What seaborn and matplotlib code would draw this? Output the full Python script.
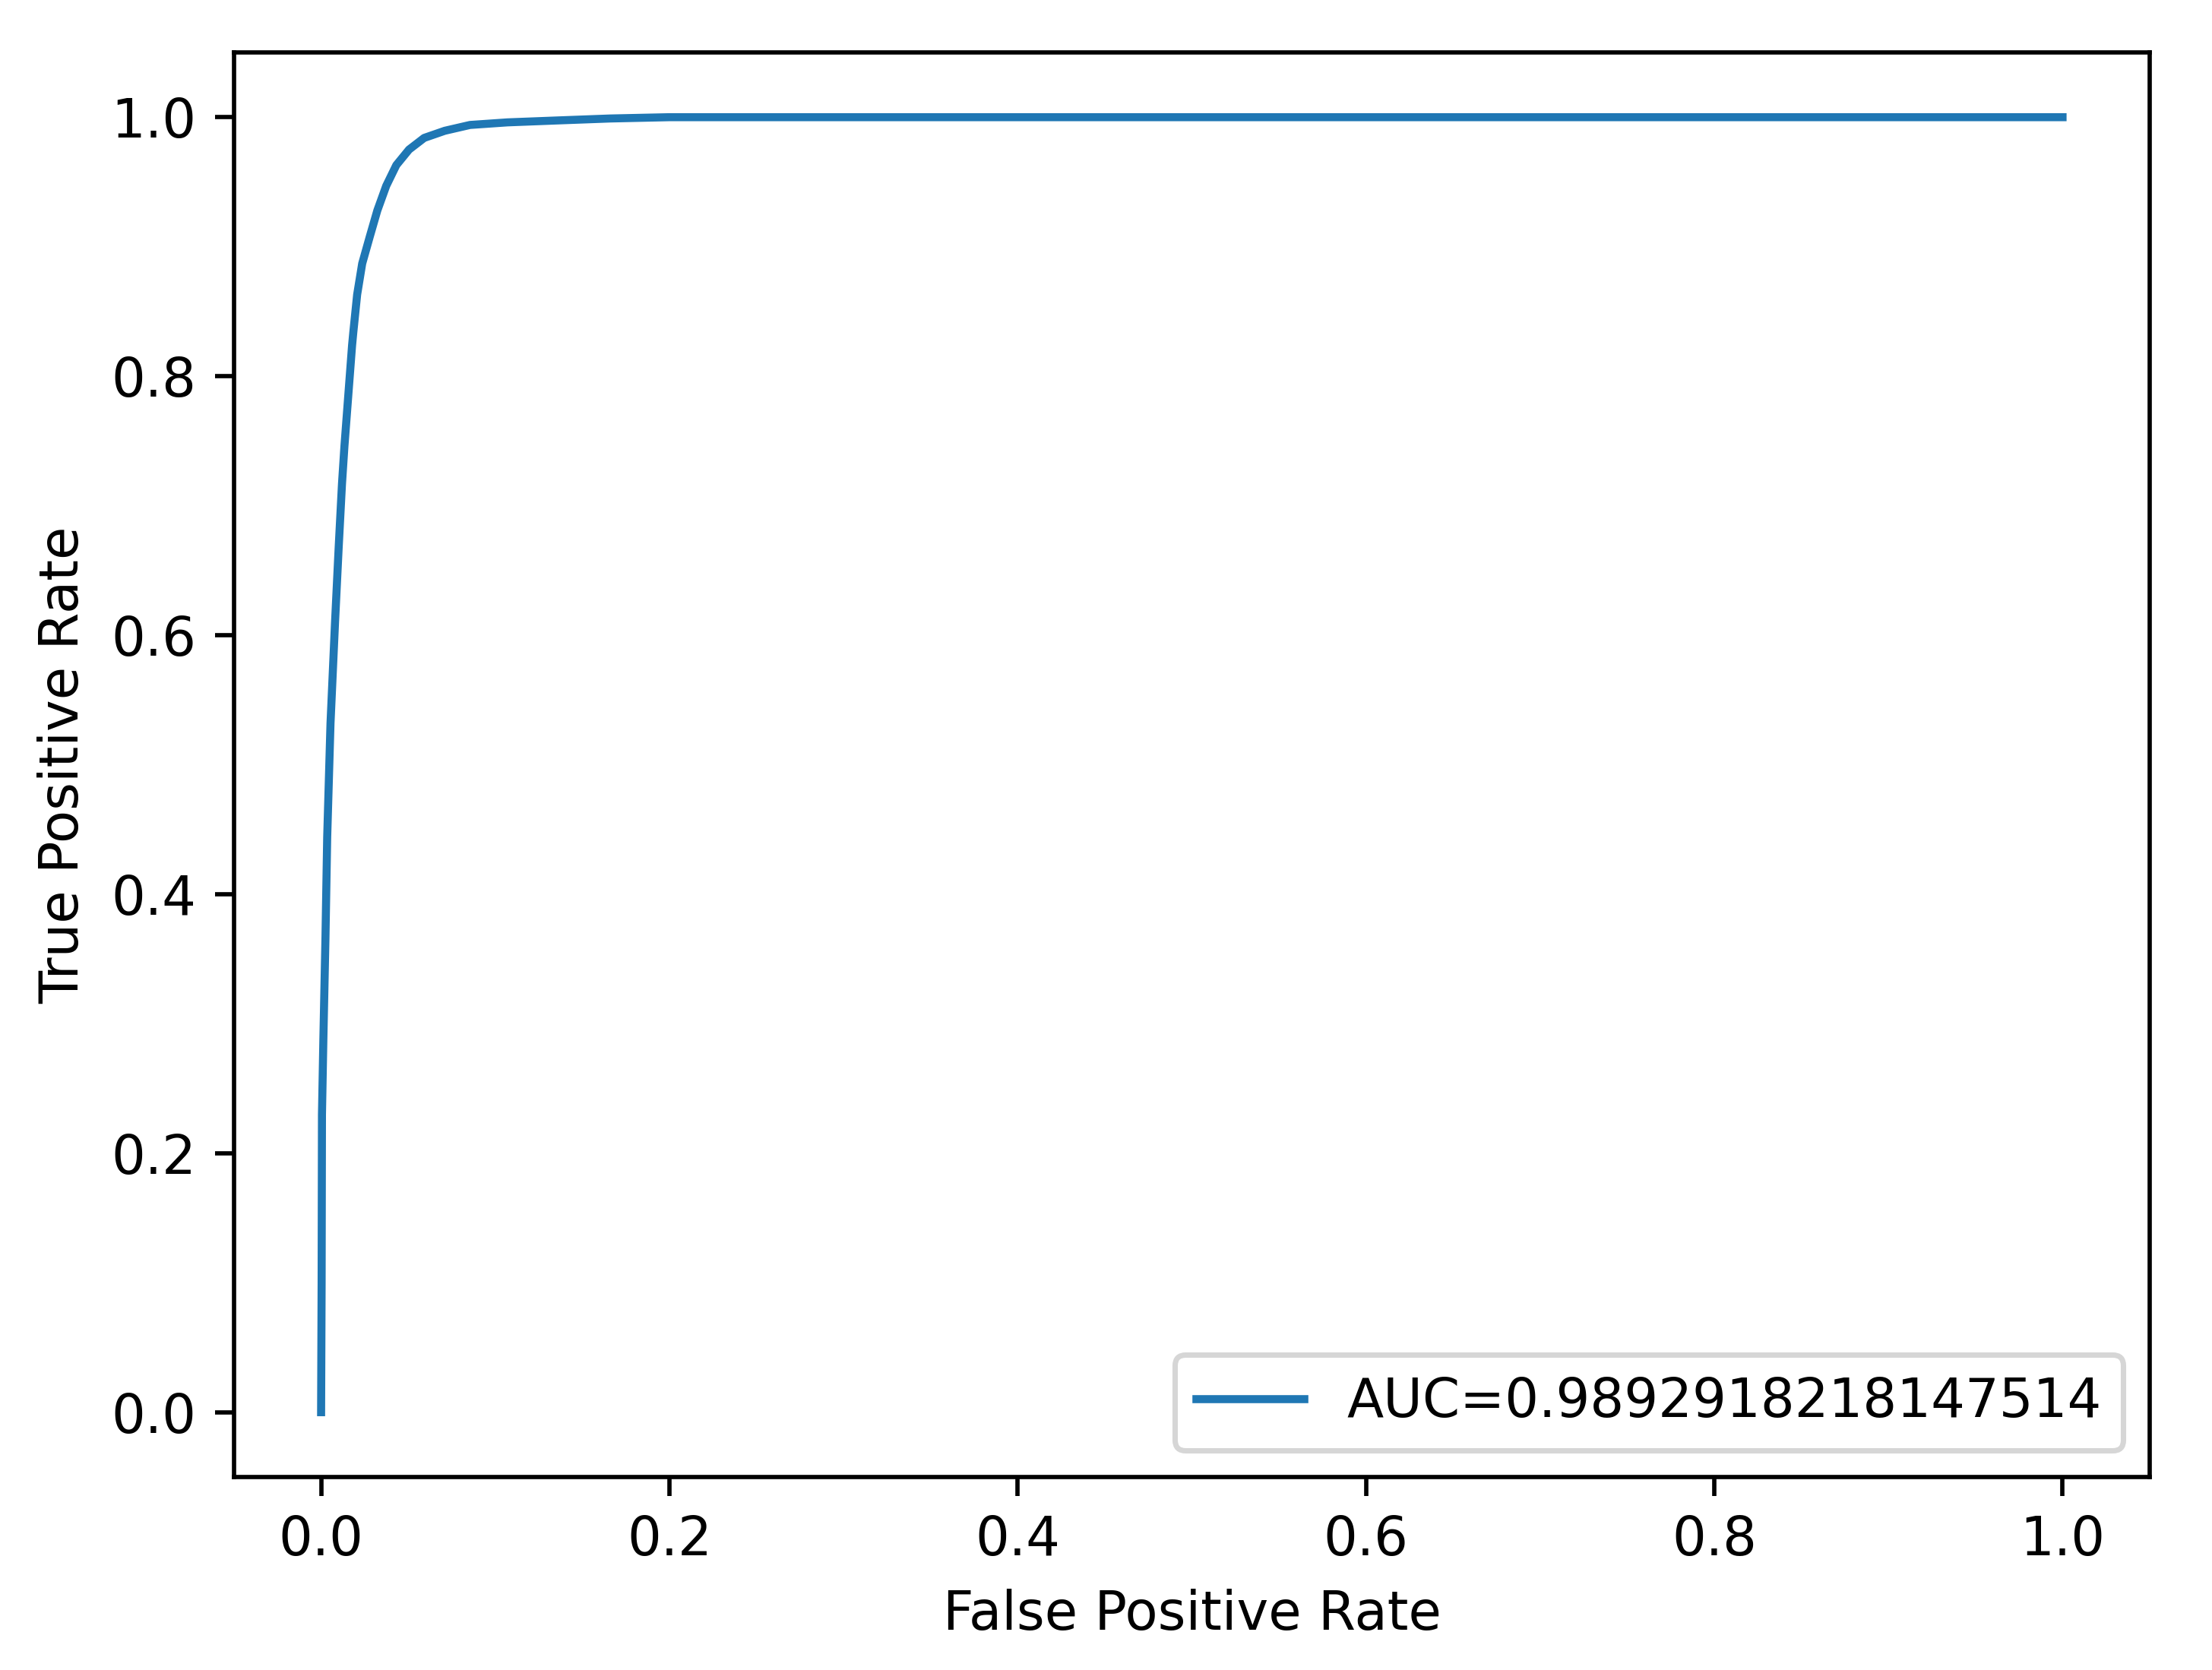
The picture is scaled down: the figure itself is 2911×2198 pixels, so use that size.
import seaborn as sns
import matplotlib.pyplot as plt
import pandas as pd

# ROC curve points
fpr = [0.0, 0.0003, 0.0005, 0.0013, 0.0025, 0.0035, 0.0054, 0.0080, 0.0101,
       0.0120, 0.0134, 0.0156, 0.0178, 0.0185, 0.0207, 0.0236, 0.0280, 0.0323,
       0.0374, 0.0432, 0.0505, 0.0592, 0.0710, 0.0855, 0.1070, 0.1360, 0.1660,
       0.2000, 1.0]
tpr = [0.0, 0.100, 0.230, 0.288, 0.366, 0.444, 0.532, 0.610, 0.668,
       0.717, 0.746, 0.785, 0.824, 0.834, 0.863, 0.887, 0.908, 0.928,
       0.947, 0.963, 0.975, 0.984, 0.9895, 0.994, 0.996, 0.9975, 0.999,
       1.0, 1.0]
auc_label = "AUC=0.9892918218147514"

df = pd.DataFrame({"fpr": fpr, "tpr": tpr})

fig = plt.figure(figsize=(2911 / 508, 2198 / 508), dpi=508)
ax = fig.add_axes([0.1058, 0.1156, 0.9718 - 0.1058, 0.9686 - 0.1156])

sns.lineplot(data=df, x="fpr", y="tpr", sort=False, estimator=None,
             label=auc_label, ax=ax, color="#1f77b4", linewidth=1.5)

ax.set_xlabel("False Positive Rate")
ax.set_ylabel("True Positive Rate")
ax.legend(loc="lower right")

fig.savefig("out.png", dpi=508)
